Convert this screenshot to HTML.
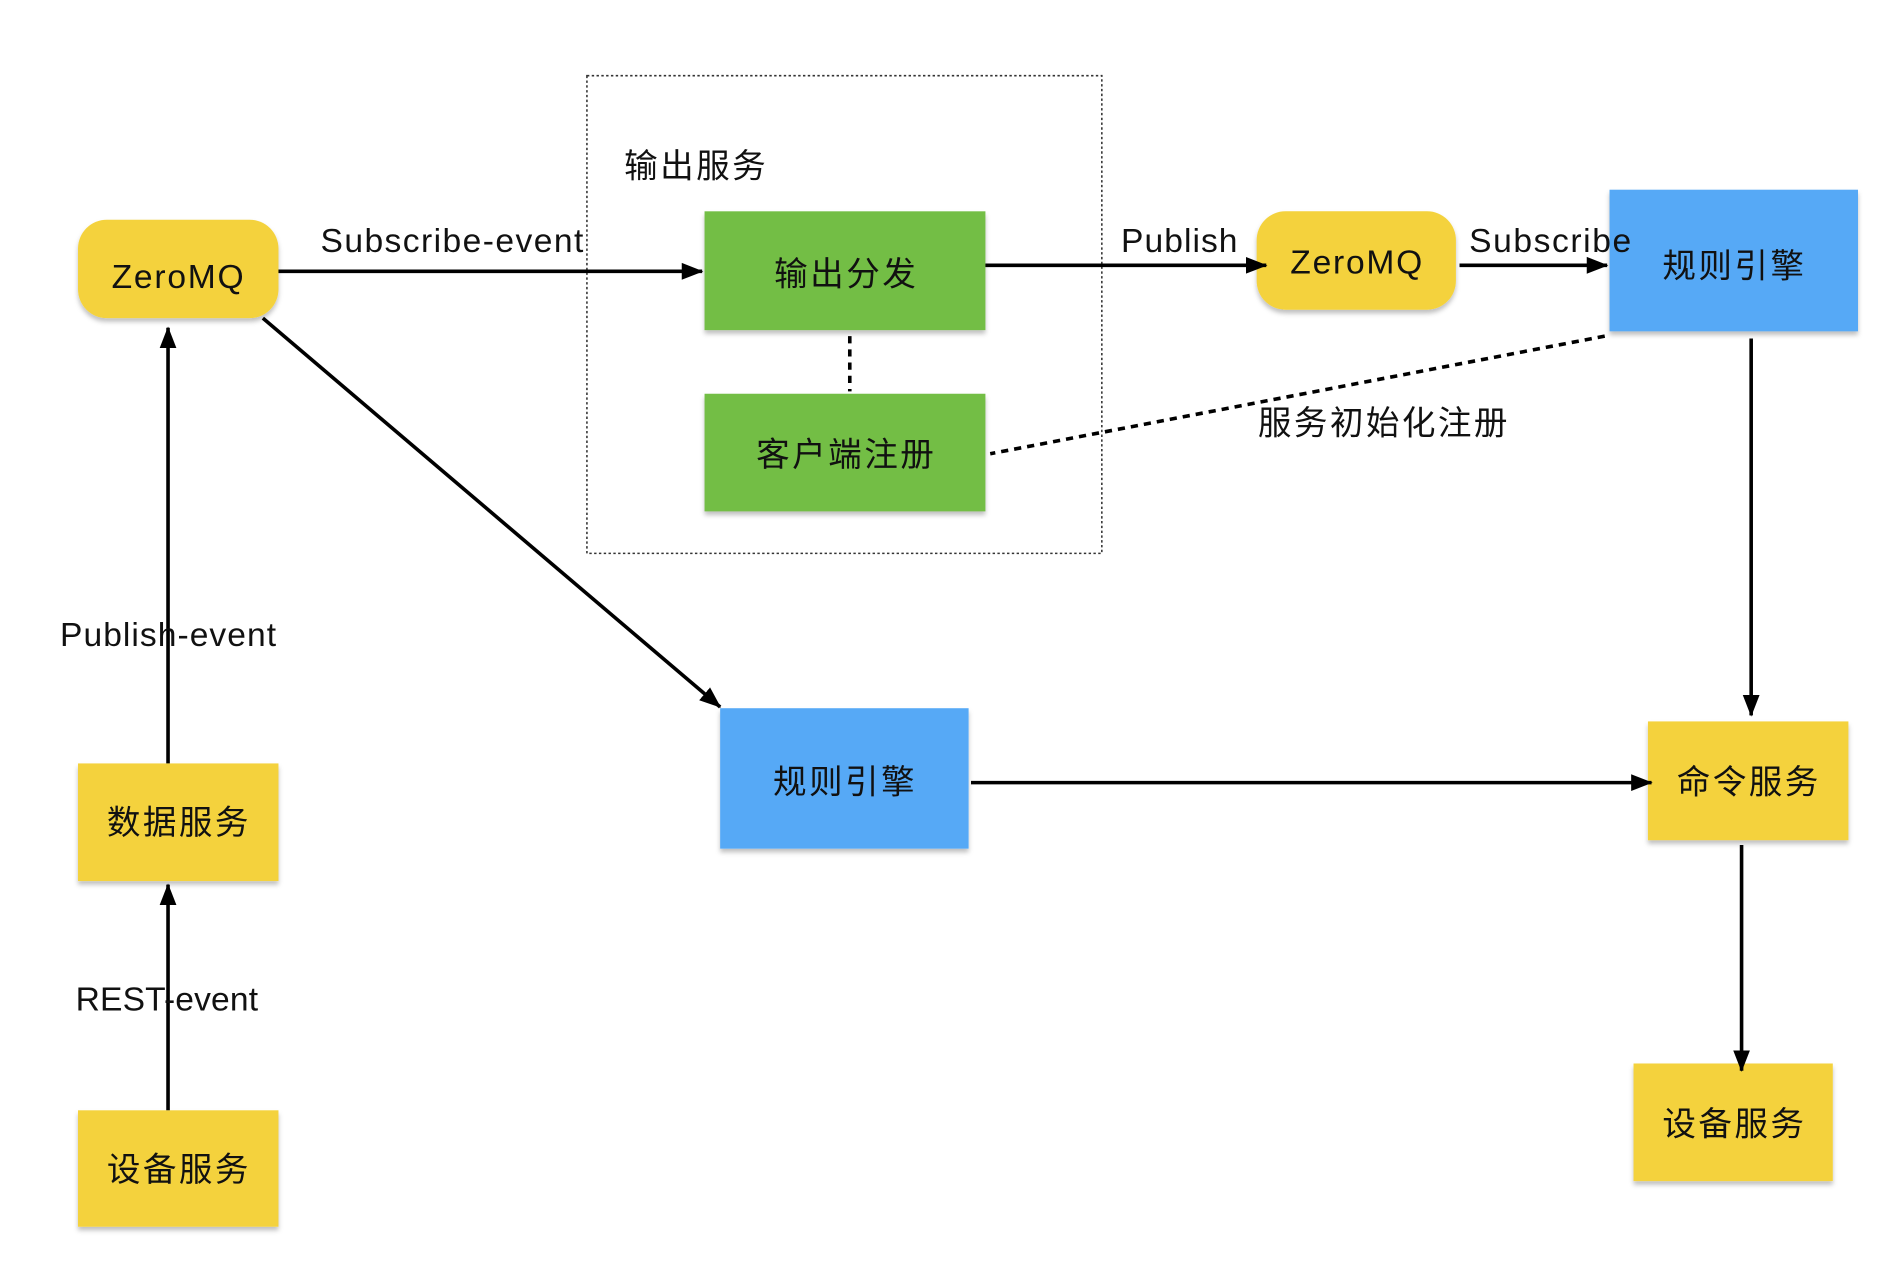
<!DOCTYPE html>
<html><head><meta charset="utf-8"><style>
html,body{margin:0;padding:0;background:#fff;}
svg{display:block;}
text{font-family:"Liberation Sans","Noto Sans CJK SC",sans-serif;fill:#111;}
</style></head><body>
<svg width="1882" height="1282" viewBox="0 0 1568 1068" xmlns="http://www.w3.org/2000/svg">
<defs>
<marker id="b" markerWidth="18" markerHeight="18" refX="17" refY="9" orient="auto" markerUnits="userSpaceOnUse" viewBox="0 0 18 18"><path d="M0,2 L18,9 L0,16 z" fill="#000"/></marker>
<filter id="s" x="-10%" y="-10%" width="130%" height="130%"><feDropShadow dx="0" dy="3" stdDeviation="2" flood-color="#000" flood-opacity="0.25"/></filter>
</defs>
<rect x="489" y="63" width="429" height="398" fill="none" stroke="#333" stroke-width="1.3" stroke-dasharray="2,2"/>
<text x="520" y="148" font-size="28" textLength="118">输出服务</text>

<g filter="url(#s)">
<rect x="65" y="183" width="167" height="82" rx="24" fill="#F4D23C"/>
<rect x="1047" y="176" width="166" height="82" rx="24" fill="#F4D23C"/>
<rect x="587" y="176" width="234" height="99" fill="#73BE45"/>
<rect x="587" y="328" width="234" height="98" fill="#73BE45"/>
<rect x="1341" y="158" width="207" height="118" fill="#56A9F6"/>
<rect x="600" y="590" width="207" height="117" fill="#56A9F6"/>
<rect x="1373" y="601" width="167" height="99" fill="#F4D23C"/>
<rect x="1361" y="886" width="166" height="98" fill="#F4D23C"/>
<rect x="65" y="636" width="167" height="98" fill="#F4D23C"/>
<rect x="65" y="925" width="167" height="97" fill="#F4D23C"/>
</g>

<g font-size="28" text-anchor="middle">
<text x="148" y="240" textLength="110">ZeroMQ</text>
<text x="1130" y="228" textLength="110">ZeroMQ</text>
<text x="704" y="238" textLength="118">输出分发</text>
<text x="704" y="388" textLength="148">客户端注册</text>
<text x="1444" y="231" textLength="118">规则引擎</text>
<text x="703" y="661" textLength="118">规则引擎</text>
<text x="1456" y="661" textLength="118">命令服务</text>
<text x="1444" y="946" textLength="118">设备服务</text>
<text x="148" y="695" textLength="118">数据服务</text>
<text x="148" y="984" textLength="118">设备服务</text>
</g>

<g stroke="#000" stroke-width="3" fill="none">
<line x1="232" y1="226" x2="585" y2="226" marker-end="url(#b)"/>
<line x1="821" y1="221" x2="1055" y2="221" marker-end="url(#b)"/>
<line x1="1216" y1="221" x2="1339" y2="221" marker-end="url(#b)"/>
<line x1="1459" y1="282" x2="1459" y2="596" marker-end="url(#b)"/>
<line x1="1451" y1="704" x2="1451" y2="892" marker-end="url(#b)"/>
<line x1="809" y1="652" x2="1376" y2="652" marker-end="url(#b)"/>
<line x1="219" y1="265" x2="600" y2="589" marker-end="url(#b)"/>
<line x1="140" y1="636" x2="140" y2="273" marker-end="url(#b)"/>
<line x1="140" y1="925" x2="140" y2="737" marker-end="url(#b)"/>
<line x1="708" y1="280" x2="708" y2="326" stroke-dasharray="6,5"/>
<line x1="1337" y1="280" x2="825" y2="378" stroke-dasharray="6,5"/>
</g>

<g font-size="28">
<text x="267" y="210" textLength="219">Subscribe-event</text>
<text x="934" y="210" textLength="97">Publish</text>
<text x="1224" y="210" textLength="135">Subscribe</text>
<text x="1048" y="362" textLength="208">服务初始化注册</text>
<text x="50" y="538" textLength="180">Publish-event</text>
<text x="63" y="842" textLength="152">REST-event</text>
</g>
</svg>
</body></html>
